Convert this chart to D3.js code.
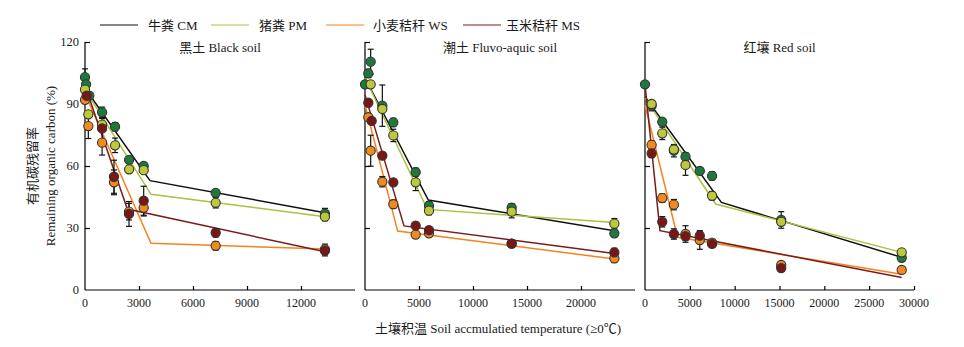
<!DOCTYPE html>
<html>
<head>
<meta charset="utf-8">
<script src="https://cdn.jsdelivr.net/npm/d3@7"></script>
<style>
  body { margin: 0; background: #fff; }
  svg text { font-family: "Liberation Serif", "Noto Sans CJK SC", serif; fill: #1a1a1a; }
</style>
</head>
<body>
<div id="chart"></div>
<script>
// manure / straw types
var treatments = ["牛粪 CM", "猪粪 PM", "小麦秸秆 WS", "玉米秸秆 MS"];
var lineColors = ["#111111", "#a9c23f", "#f5821f", "#7b1c1c"];
var dotColors = ["#1d7a3c", "#bdc93a", "#f28a1e", "#7a1616"];

var soils = ["黑土 Black soil", "潮土 Fluvo-aquic soil", "红壤 Red soil"];
var xMax = [15000, 25000, 30000];
var xTicks = [[3000, 6000, 9000, 12000], [5000, 10000, 15000, 20000], [5000, 10000, 15000, 20000, 25000, 30000]];
var yTicks = [0, 30, 60, 90, 120];

// observations: [accumulated temperature, remaining C %, error]
var blackCM = [[0,103,4],[60,99.5,1.5],[240,94,1.5],[950,86,2.5],[1670,79,2],[2450,63,1.5],[3260,60,1.5],[7260,47,1.5],[13330,37,2.5]];
var blackPM = [[0,97,1.5],[185,85,1.5],[950,80,3],[1670,70,3.5],[2450,58.4,1.5],[3260,58,1.5],[7260,42.2,2.5],[13330,35.5,2]];
var blackWS = [[0,92,1.5],[185,79.3,6],[950,71.3,6],[1610,52.1,6],[2444,37.9,4],[3260,39.8,4],[7260,21.4,2],[13330,19.7,2.5]];
var blackMS = [[90,94,1.5],[950,78.2,1.5],[1610,54.8,8],[2444,36.8,6],[3260,43.2,7],[7260,27.7,2],[13330,19,2.5]];

var fluvoCM = [[0,99.5,1.5],[309,104.8,2],[525,110.5,6],[1605,89.2,10],[2623,81.1,2],[4691,57,2],[5926,40.8,2],[13580,39.8,2],[23090,27.4,1.5]];
var fluvoPM = [[525,99.5,1.5],[1605,87.6,1.5],[2623,74.8,3],[4691,52.1,4],[5926,38.4,2],[13580,37.9,3],[23090,32.1,2.5]];
var fluvoWS = [[309,83.6,1.5],[525,67.4,7.5],[1605,52.4,2.5],[2623,41.5,2],[4691,26.8,1.5],[5926,27.4,1.5],[13580,22.4,1.5],[23090,15.3,2]];
var fluvoMS = [[309,90.6,1.5],[617,81.8,1.5],[1605,65,1.5],[2623,52.1,1.5],[4691,31.1,1.5],[5926,29,1.5],[13580,22.4,1.5],[23090,18.2,2]];

var redCM = [[0,99.5,1],[740,89.2,2.5],[1925,81.4,1.5],[3222,67.4,3],[4518,64.5,2],[6111,57.6,1.5],[7481,55.2,2],[15190,33.9,4],[28630,15.6,1.5]];
var redPM = [[740,90,1.5],[1925,75.8,3],[3222,68,1.5],[4518,60.5,5],[7481,45.6,2],[15190,33,1.5],[28630,18.2,1.5]];
var redWS = [[740,70.2,2],[1925,44.5,2],[3222,41.3,2.5],[4518,27.1,4],[6111,24.2,4.5],[7481,22.9,1.5],[15190,12.1,1.5],[28630,9.7,1.5]];
var redMS = [[740,66.1,2],[1925,33,2.5],[3222,27.1,2.5],[4518,26,2],[6111,26.3,2],[7481,22.3,1.5],[15190,10.6,1.5]];

// piecewise fitted decay lines
var blackFit = [[[0,97.6],[3611,52.9],[13333,37.4]], [[0,97],[3667,46.3],[13333,35.5]], [[0,95],[3667,22.6],[13333,19.8]], [[0,99],[2352,39.2],[13333,18.5]]];
var fluvoFit = [[[0,102.7],[5864,43.5],[23090,28.7]], [[0,102.7],[5772,39],[23090,32.7]], [[0,89.5],[3025,28.5],[23090,15]], [[0,94.4],[3611,31],[23090,17.7]]];
var redFit = [[[0,93.5],[8518,42.4],[28630,15.8]], [[0,93],[7888,41.6],[28630,18.2]], [[0,89.5],[3630,25.5],[28630,7.6]], [[0,99.5],[1667,28.7],[28630,6]]];

var points = [[blackCM, blackPM, blackWS, blackMS], [fluvoCM, fluvoPM, fluvoWS, fluvoMS], [redCM, redPM, redWS, redMS]];
var fits = [blackFit, fluvoFit, redFit];

var width = 964, height = 347;
var panelLeft = [85, 365, 645], panelWidth = [270, 270, 269];
var plotTop = 42, plotBottom = 290;

var svg = d3.select("#chart").append("svg")
    .attr("width", width)
    .attr("height", height);

var y = d3.scaleLinear().domain([0, 120]).range([plotBottom, plotTop]);

// legend
var legendX = [100, 211, 326, 463];
treatments.forEach(function(t, i) {
  var g = svg.append("g").attr("transform", "translate(" + legendX[i] + ",25)");
  g.append("line").attr("x1", 0).attr("x2", 38).attr("y1", 0).attr("y2", 0)
    .attr("stroke", lineColors[i]).attr("stroke-width", 1.2);
  g.append("text").attr("x", i == 3 ? 43 : (i == 2 ? 47 : 48)).attr("y", 4.5)
    .style("font-size", "13px").text(t);
});

soils.forEach(function(soil, p) {
  var x = d3.scaleLinear().domain([0, xMax[p]]).range([panelLeft[p], panelLeft[p] + panelWidth[p]]);
  var g = svg.append("g");

  // axes
  var xAxis = d3.axisTop(x).tickValues(xTicks[p]).tickSize(4).tickFormat("");
  g.append("g").attr("transform", "translate(0," + plotBottom + ")").call(xAxis)
    .call(function(s) { s.select(".domain").remove(); });
  g.append("line").attr("x1", panelLeft[p]).attr("x2", panelLeft[p] + panelWidth[p])
    .attr("y1", plotBottom).attr("y2", plotBottom).attr("stroke", "#000").attr("stroke-width", 1.2);
  g.append("line").attr("x1", panelLeft[p]).attr("x2", panelLeft[p])
    .attr("y1", plotTop).attr("y2", plotBottom).attr("stroke", "#000").attr("stroke-width", 1.2);
  var yAxis = d3.axisRight(y).tickValues([30, 60, 120]).tickSize(5).tickFormat("");
  g.append("g").attr("transform", "translate(" + panelLeft[p] + ",0)").call(yAxis)
    .call(function(s) { s.select(".domain").remove(); });
  g.selectAll(".tick line").attr("stroke", "#000").attr("stroke-width", 1.2);

  // x tick labels
  g.selectAll(".xlab").data([0].concat(xTicks[p])).enter().append("text")
    .attr("x", function(d) { return x(d); }).attr("y", 307)
    .attr("text-anchor", "middle").style("font-size", "12px")
    .text(function(d) { return d; });

  if (p == 0) {
    g.selectAll(".ylab").data(yTicks).enter().append("text")
      .attr("x", 79).attr("y", function(d) { return y(d) + 4; })
      .attr("text-anchor", "end").style("font-size", "12.5px")
      .text(function(d) { return d; });
  }

  g.append("text").attr("x", panelLeft[p] + panelWidth[p] / 2).attr("y", 52)
    .attr("text-anchor", "middle").style("font-size", "13px").text(soil);

  // fitted lines
  var line = d3.line().x(function(d) { return x(d[0]); }).y(function(d) { return y(d[1]); });
  fits[p].forEach(function(f, i) {
    g.append("path").datum(f).attr("d", line)
      .attr("fill", "none").attr("stroke", lineColors[i]).attr("stroke-width", 1.5);
  });

  // error bars, then the points on top of them
  points[p].forEach(function(series, i) {
    series.forEach(function(d) {
      var cx = x(d[0]), y0 = y(d[1] - d[2]), y1 = y(d[1] + d[2]);
      g.append("line").attr("x1", cx).attr("x2", cx).attr("y1", y0).attr("y2", y1)
        .attr("stroke", "#111").attr("stroke-width", 1.2);
      [y0, y1].forEach(function(yy) {
        g.append("line").attr("x1", cx - 3).attr("x2", cx + 3).attr("y1", yy).attr("y2", yy)
          .attr("stroke", "#111").attr("stroke-width", 1.2);
      });
    });
  });

  points[p].forEach(function(series, i) {
    g.selectAll(".pt" + i).data(series).enter().append("circle")
      .attr("cx", function(d) { return x(d[0]); })
      .attr("cy", function(d) { return y(d[1]); })
      .attr("r", 4.6)
      .attr("fill", dotColors[i])
      .attr("stroke", "#333").attr("stroke-width", 1.1);
  });
});

// axis titles
svg.append("text").attr("transform", "translate(37,166) rotate(-90)")
  .attr("text-anchor", "middle").style("font-size", "13px").text("有机碳残留率");
svg.append("text").attr("transform", "translate(55,166) rotate(-90)")
  .attr("text-anchor", "middle").style("font-size", "13px").text("Remaining organic carbon (%)");
svg.append("text").attr("x", 498).attr("y", 333)
  .attr("text-anchor", "middle").style("font-size", "13px").text("土壤积温 Soil accmulatied temperature (≥0℃)");
</script>
</body>
</html>
